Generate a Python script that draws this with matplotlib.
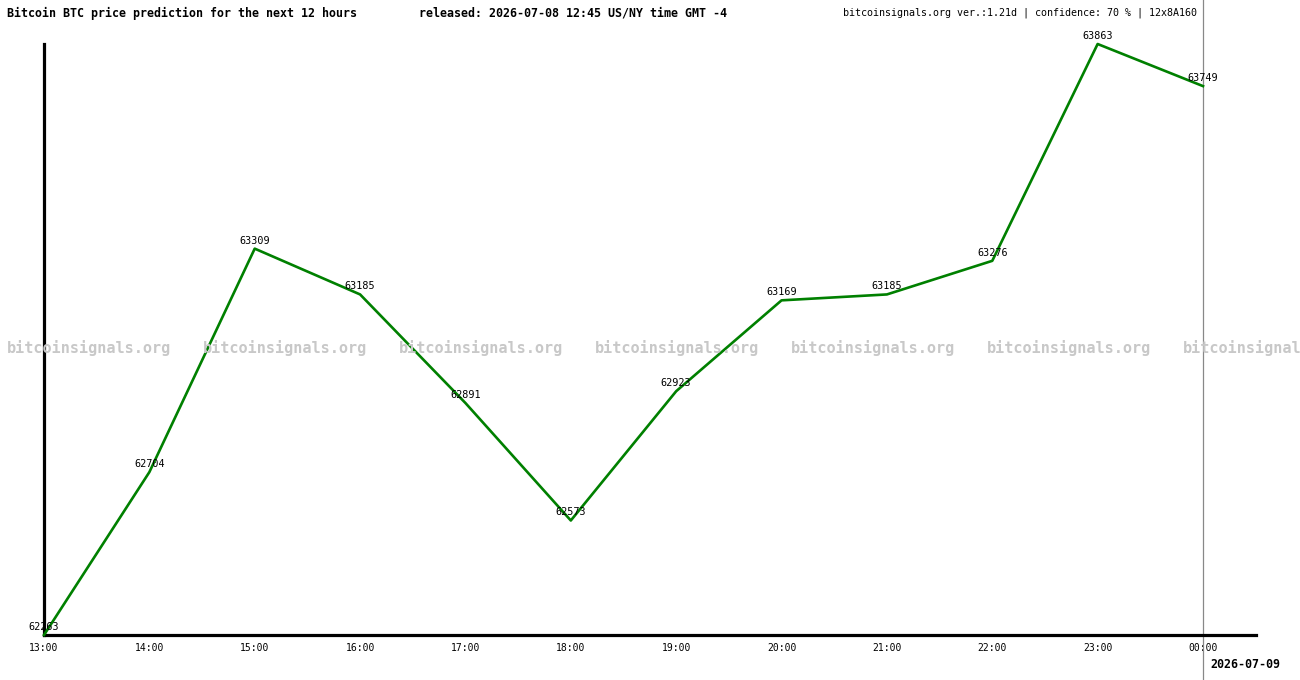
import matplotlib.pyplot as plt
import numpy as np

hours = ["13:00", "14:00", "15:00", "16:00", "17:00", "18:00",
         "19:00", "20:00", "21:00", "22:00", "23:00", "00:00"]
prices = [62263, 62704, 63309, 63185, 62891, 62573,
          62923, 63169, 63185, 63276, 63863, 63749]
next_day = "2026-07-09"

W, H = 1300, 680
fig = plt.figure(figsize=(W / 100, H / 100), dpi=100)
fig.patch.set_facecolor("white")

# axes box in pixels: left 44, right 1256, top 44, bottom 635
ax = fig.add_axes([44 / W, (H - 635) / H, (1256 - 44) / W, (635 - 44) / H])
x = np.arange(len(prices))
step = (1203 - 44) / (len(prices) - 1)
ax.set_xlim(0, (1256 - 44) / step)
ax.set_ylim(min(prices), max(prices))

mono = "DejaVu Sans Mono"

# watermark, the last one runs off the right edge like in the original
for i in range(7):
    fig.text((7 + i * 196) / W, 1 - 348 / H, "bitcoinsignals.org", family=mono,
             fontsize=10.9, fontweight="bold", color="#c8c8c8", va="center",
             ha="left", zorder=0)

ax.set_facecolor("none")
ax.plot(x, prices, color="#008000", lw=1.9, clip_on=False, zorder=3)
for xi, p in zip(x, prices):
    ax.annotate(str(p), (xi, p), xytext=(0, 8), textcoords="offset pixels",
                ha="center", va="center", family=mono, fontsize=7.3,
                color="black", zorder=4, annotation_clip=False)

ax.axvline(x[-1], ymin=-45 / 591, ymax=1 + 44 / 591, color="#888888", lw=0.9,
           clip_on=False, zorder=2)

for s in ["top", "right"]:
    ax.spines[s].set_visible(False)
for s in ["left", "bottom"]:
    ax.spines[s].set_linewidth(2.3)
    ax.spines[s].set_color("black")
ax.set_yticks([])
ax.set_xticks(x)
ax.set_xticklabels(hours, family=mono, fontsize=7)
ax.tick_params(axis="x", length=0, pad=6)

fig.text(7 / W, 1 - 13 / H, "Bitcoin BTC price prediction for the next 12 hours",
         family=mono, fontsize=8.4, fontweight="bold", va="center", ha="left")
fig.text(419 / W, 1 - 13 / H, "released: 2026-07-08 12:45 US/NY time GMT -4",
         family=mono, fontsize=8.4, fontweight="bold", va="center", ha="left")
fig.text(1197 / W, 1 - 13 / H,
         "bitcoinsignals.org ver.:1.21d | confidence: 70 % | 12x8A160",
         family=mono, fontsize=7.2, va="center", ha="right")
fig.text(1210 / W, 1 - 664 / H, next_day, family=mono, fontsize=8.4,
         fontweight="bold", va="center", ha="left")

fig.savefig("out.png", dpi=100)
